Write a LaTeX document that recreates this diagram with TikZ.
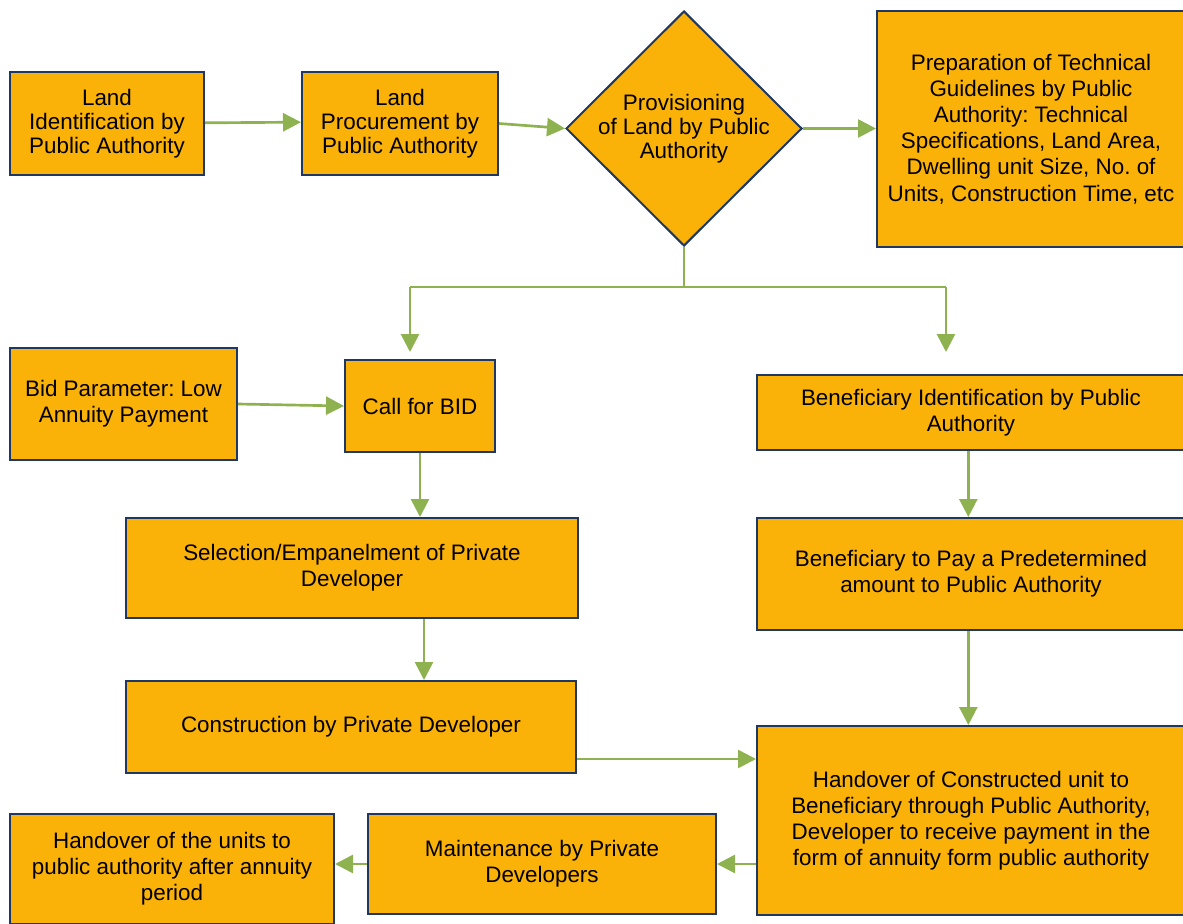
\documentclass[tikz,border=0pt]{standalone}
\usepackage{fontspec}
\setmainfont{Liberation Sans}
\frenchspacing
\usetikzlibrary{shapes.geometric,arrows.meta,calc}
\definecolor{boxfill}{HTML}{FBB208}
\definecolor{boxline}{HTML}{1F3763}
\definecolor{arrgreen}{HTML}{8DB24F}
\tikzset{
  box/.style={draw=boxline, fill=boxfill, line width=1.5pt, align=center, inner sep=2pt,
    font=\fontsize{16.8}{19.2}\selectfont},
  link/.style={draw=arrgreen, line width=2pt},
  arr/.style={link, -{Triangle[length=13.5pt,width=13.5pt]}},
}
\begin{document}
\begin{tikzpicture}[x=0.75pt,y=-0.75pt]
\useasboundingbox (0,0) rectangle (1183,924);
\clip (0,0) rectangle (1183,924);
\fill[white] (0,0) rectangle (1183,924);

\node[box, font=\fontsize{16.8}{18}\selectfont, minimum width=194*0.75pt, minimum height=103*0.75pt] (A) at (107,123.5)
  {Land\\Identification by\\Public Authority};
\node[box, font=\fontsize{16.8}{18}\selectfont, minimum width=196*0.75pt, minimum height=103*0.75pt] (B) at (400,123.5)
  {Land\\Procurement by\\Public Authority};
\node[box, shape=diamond, inner sep=0pt, minimum width=236*0.75pt, minimum height=235*0.75pt,
  label={[align=center, font=\fontsize{16.8}{18}\selectfont]center:{Provisioning\\of Land by Public\\Authority}}] (P) at (684,128.5) {};
\node[box, font=\fontsize{16.8}{19.6}\selectfont, minimum width=308*0.75pt, minimum height=236*0.75pt] (D) at (1031,129)
  {Preparation of Technical\\Guidelines by Public\\Authority: Technical\\Specifications, Land Area,\\Dwelling unit Size, No. of\\Units, Construction Time, etc};

\node[box, minimum width=227*0.75pt, minimum height=112*0.75pt] (Bid) at (123.5,404)
  {Bid Parameter: Low\\Annuity Payment};
\node[box, minimum width=150*0.75pt, minimum height=92*0.75pt] (Call) at (420,406)
  {Call for BID};
\node[box, minimum width=428*0.75pt, minimum height=75*0.75pt] (Ben) at (971,412.5)
  {Beneficiary Identification by Public\\Authority};
\node[box, minimum width=452*0.75pt, minimum height=100*0.75pt] (Sel) at (352,568)
  {Selection/Empanelment of Private\\Developer};
\node[box, minimum width=428*0.75pt, minimum height=112*0.75pt] (Pay) at (971,574)
  {Beneficiary to Pay a Predetermined\\amount to Public Authority};
\node[box, minimum width=450*0.75pt, minimum height=92*0.75pt] (Cons) at (351,727)
  {Construction by Private Developer};
\node[box, font=\fontsize{16.8}{19.6}\selectfont, minimum width=428*0.75pt, minimum height=189*0.75pt] (Hand) at (971,820.5)
  {Handover of Constructed unit to\\Beneficiary through Public Authority,\\Developer to receive payment in the\\form of annuity form public authority};
\node[box, minimum width=348*0.75pt, minimum height=100*0.75pt] (Main) at (542,864)
  {Maintenance by Private\\Developers};
\node[box, font=\fontsize{16.8}{19.6}\selectfont, minimum width=324*0.75pt, minimum height=110*0.75pt] (Units) at (172,869)
  {Handover of the units to\\public authority after annuity\\period};

% connectors
\draw[arr] ([yshift=0.5pt]A.east) -- ([yshift=1pt]B.west);
\draw[arr] (B.east) -- (P.west);
\draw[arr] (P.east) -- (P.east -| D.west);

\coordinate (bus) at (684,287);
\coordinate (busL) at (410,287);
\coordinate (busR) at (946,287);
\coordinate (tipL) at (410,352);
\coordinate (tipR) at (946,352);
\draw[link] (P.south) -- (bus);
\draw[link] (busL) -- (busR);
\draw[arr] (busL) -- (tipL);
\draw[arr] (busR) -- (tipR);

\draw[arr] (Bid.east) -- (Call.west);
\draw[arr] (Call.south) -- (Call.south |- Sel.north);
\draw[arr] ([xshift=54pt]Sel.south) -- ([xshift=54pt]Sel.south |- Cons.north);
\draw[arr] ([xshift=-2pt]Ben.south) -- ([xshift=-2pt]Ben.south |- Pay.north);
\draw[arr] ([xshift=-2pt]Pay.south) -- ([xshift=-2pt]Pay.south |- Hand.north);
\draw[arr] ([yshift=-24pt]Cons.east) coordinate (c1) -- (c1 -| Hand.west);
\draw[arr] (Main.east -| Hand.west) -- (Main.east);
\draw[arr] (Main.west) -- (Main.west -| Units.east);
\end{tikzpicture}
\end{document}
